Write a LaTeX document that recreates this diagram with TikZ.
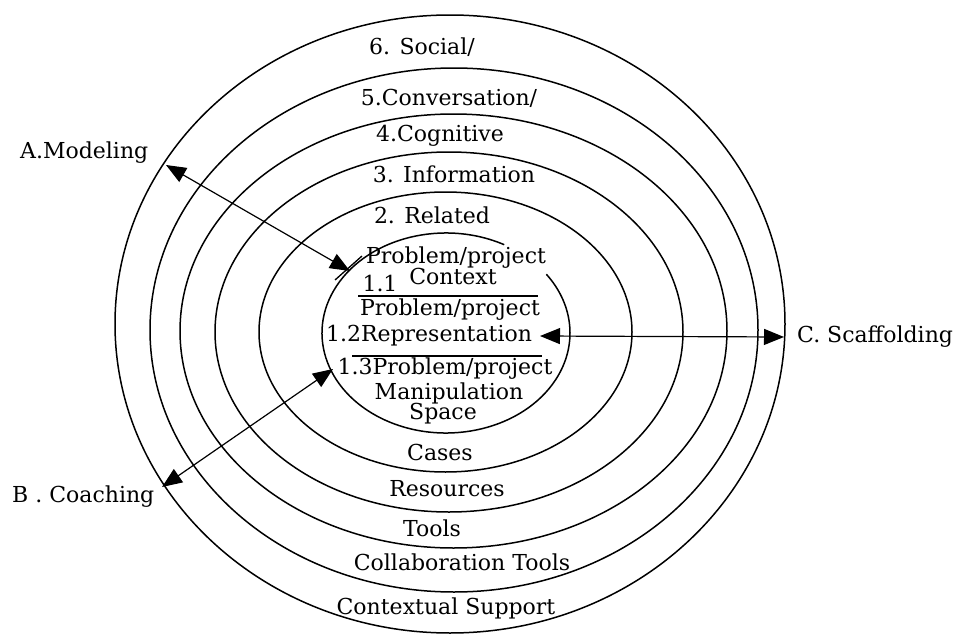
\documentclass[tikz,border=0pt]{standalone}
\usepackage{fontspec}
\setmainfont{DejaVu Serif}
\usetikzlibrary{arrows.meta}
\tikzset{
  ring/.style={line width=1.5pt},
  lbl/.style={font=\fontsize{22}{23}\selectfont, inner sep=0pt},
  conn/.style={line width=1.2pt, {Triangle[length=20pt,width=16pt]}-{Triangle[length=20pt,width=16pt]}},
  rule/.style={line width=1.3pt}
}
\begin{document}
\begin{tikzpicture}[x=1pt,y=-1pt]
\useasboundingbox (0,0) rectangle (962,637);
% rings
\draw[ring] (446,333) ++(62:124pt and 100pt) arc[start angle=62, end angle=396, x radius=124pt, y radius=100pt];
\draw[ring] (445.5,332) ellipse [x radius=186.5pt, y radius=140pt];
\draw[ring] (449,332) ellipse [x radius=234pt, y radius=180pt];
\draw[ring] (453.5,331) ellipse [x radius=273.5pt, y radius=217pt];
\draw[ring] (454,330) ellipse [x radius=304pt, y radius=262pt];
\draw[ring] (450,324) ellipse [x radius=335pt, y radius=309pt];
% ring labels
\node[lbl] (l6) at (422,47) {6. Social/};
\node[lbl] (l5) at (449,98) {5.Conversation/};
\node[lbl] (l4) at (440,136) {4.Cognitive};
\node[lbl] (l3) at (454,174) {3. Information};
\node[lbl] (l2) at (432,215) {2. Related};
\node[lbl] (p1) at (456,258) {Problem/project};
\node[lbl] (n11) at (380,283) {1.1};
\node[lbl] (c11) at (453,276) {Context};
\node[lbl] (p2) at (450,310) {Problem/project};
\node[lbl] (n12) at (429,336) {1.2Representation};
\node[lbl] (n13) at (445,369) {1.3Problem/project};
\node[lbl] (m13) at (449,393) {Manipulation};
\node[lbl] (s13) at (443,414) {Space};
\node[lbl] (b2) at (440,452) {Cases};
\node[lbl] (b3) at (447,489) {Resources};
\node[lbl] (b4) at (432,528) {Tools};
\node[lbl] (b5) at (462,562) {Collaboration Tools};
\node[lbl] (b6) at (446,608) {Contextual Support};
% separators
\coordinate (r1a) at (358,296); \coordinate (r1b) at (538,296);
\coordinate (r2a) at (352,356); \coordinate (r2b) at (542,356);
\draw[rule] (r1a) -- (r1b);
\draw[rule] (r2a) -- (r2b);
% outer labels
\node[lbl, anchor=west] (A) at (20,153) {A.Modeling};
\node[lbl, anchor=west] (B) at (12,497) {B . Coaching};
\node[lbl, anchor=west] (C) at (797,337) {C. Scaffolding};
% arrows
\coordinate (a1) at (166,165); \coordinate (a2) at (350,271);
\coordinate (b1) at (162,487); \coordinate (b2e) at (333,369);
\coordinate (c1) at (540,336); \coordinate (c2) at (784,337);
\coordinate (t1) at (335,280); \coordinate (t2) at (362,256);
\draw[conn] (a1) -- (a2);
\draw[conn] (b1) -- (b2e);
\draw[conn] (c1) -- (c2);
\draw[rule] (t1) -- (t2);
\end{tikzpicture}
\end{document}
